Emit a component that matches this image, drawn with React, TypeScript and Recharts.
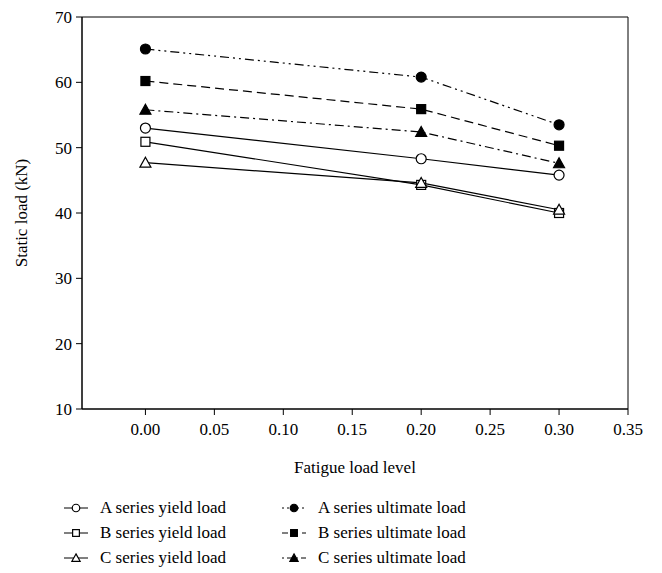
import React from 'react';
import {
  LineChart, Line, XAxis, YAxis, Legend, ReferenceArea
} from 'recharts';

const levels = [0, 0.2, 0.3];
const aYield = [53.0, 48.3, 45.8];
const bYield = [50.9, 44.3, 40.0];
const cYield = [47.7, 44.6, 40.5];
const aUlt = [65.1, 60.8, 53.5];
const bUlt = [60.2, 55.9, 50.3];
const cUlt = [55.8, 52.4, 47.6];
const xTicks = [0, 0.05, 0.1, 0.15, 0.2, 0.25, 0.3, 0.35];
const yTicks = [10, 20, 30, 40, 50, 60, 70];

const data = levels.map((x, i) => ({
  x, aYield: aYield[i], bYield: bYield[i], cYield: cYield[i],
  aUlt: aUlt[i], bUlt: bUlt[i], cUlt: cUlt[i],
}));

const FONT = "'Liberation Serif', 'Times New Roman', 'DejaVu Serif', serif";

type Shape = 'circle' | 'square' | 'triangle';

const series = [
  { key: 'aYield', name: 'A series yield load', shape: 'circle' as Shape, filled: false, dash: undefined, legDash: undefined },
  { key: 'bYield', name: 'B series yield load', shape: 'square' as Shape, filled: false, dash: undefined, legDash: undefined },
  { key: 'cYield', name: 'C series yield load', shape: 'triangle' as Shape, filled: false, dash: undefined, legDash: undefined },
  { key: 'aUlt', name: 'A series ultimate load', shape: 'circle' as Shape, filled: true, dash: '9 4 2 4 2 4', legDash: '2 3' },
  { key: 'bUlt', name: 'B series ultimate load', shape: 'square' as Shape, filled: true, dash: '9 5', legDash: '6 4' },
  { key: 'cUlt', name: 'C series ultimate load', shape: 'triangle' as Shape, filled: true, dash: '9 4 2 4', legDash: '2 3 6 3' },
];

const Marker = ({ cx, cy, shape, filled, size = 1 }: any) => {
  const fill = filled ? '#000' : '#fff';
  if (shape === 'circle') {
    return <circle cx={cx} cy={cy} r={5 * size} fill={fill} stroke="#000" strokeWidth={1.2} />;
  }
  if (shape === 'square') {
    const s = 9 * size;
    return <rect x={cx - s / 2} y={cy - s / 2} width={s} height={s} fill={fill} stroke="#000" strokeWidth={1.2} />;
  }
  const h = 5.5 * size;
  return (
    <polygon
      points={`${cx},${cy - h} ${cx + h},${cy + h * 0.8} ${cx - h},${cy + h * 0.8}`}
      fill={fill} stroke="#000" strokeWidth={1.2}
    />
  );
};

const LegendBox = () => {
  const item = (s: typeof series[number]) => (
    <div key={s.key} style={{ display: 'flex', alignItems: 'center', height: 25 }}>
      <svg width={30} height={16} style={{ marginRight: 8 }}>
        <line x1={2} y1={8} x2={26} y2={8} stroke="#000" strokeWidth={1} strokeDasharray={s.legDash} />
        <Marker cx={14} cy={8} shape={s.shape} filled={s.filled} size={0.75} />
      </svg>
      <span>{s.name}</span>
    </div>
  );
  return (
    <div style={{ display: 'flex', fontFamily: FONT, fontSize: 17, color: '#000', paddingLeft: 62 }}>
      <div style={{ width: 218 }}>{series.slice(0, 3).map(item)}</div>
      <div>{series.slice(3).map(item)}</div>
    </div>
  );
};

export default function App() {
  return (
    <div style={{ position: 'absolute', left: 0, top: 0, background: '#fff', fontFamily: FONT }}>
      <LineChart
        width={662}
        height={573}
        data={data}
        margin={{ top: 17, right: 34, bottom: 0, left: 0 }}
      >
        <XAxis
          dataKey="x"
          type="number"
          domain={[-0.046, 0.35]}
          ticks={xTicks}
          tickFormatter={(v: number) => v.toFixed(2)}
          height={86}
          stroke="#000"
          tick={{ fill: '#000', fontSize: 17, fontFamily: FONT }}
          tickSize={6}
          tickMargin={8}
          allowDataOverflow
          label={{ value: 'Fatigue load level', position: 'insideBottom', offset: 22, fill: '#000', fontSize: 17, fontFamily: FONT }}
        />
        <YAxis
          type="number"
          domain={[10, 70]}
          ticks={yTicks}
          width={82}
          stroke="#000"
          tick={{ fill: '#000', fontSize: 17, fontFamily: FONT }}
          tickSize={6}
          tickMargin={4}
          label={{ value: 'Static load (kN)', angle: -90, position: 'insideLeft', offset: 21, fill: '#000', fontSize: 17, fontFamily: FONT, style: { textAnchor: 'middle' } }}
        />
        <ReferenceArea x1={-0.046} x2={0.35} y1={10} y2={70} fill="none" stroke="#000" strokeWidth={1} ifOverflow="extendDomain" />
        <Legend verticalAlign="bottom" height={78} content={() => <LegendBox />} wrapperStyle={{ left: 0, width: 662 }} />
        {series.map((s) => (
          <Line
            key={s.key}
            dataKey={s.key}
            name={s.name}
            stroke="#000"
            strokeWidth={1.2}
            strokeDasharray={s.dash}
            isAnimationActive={false}
            dot={(p: any) => <Marker key={`${s.key}-${p.index}`} cx={p.cx} cy={p.cy} shape={s.shape} filled={s.filled} />}
            activeDot={false}
          />
        ))}
      </LineChart>
    </div>
  );
}
